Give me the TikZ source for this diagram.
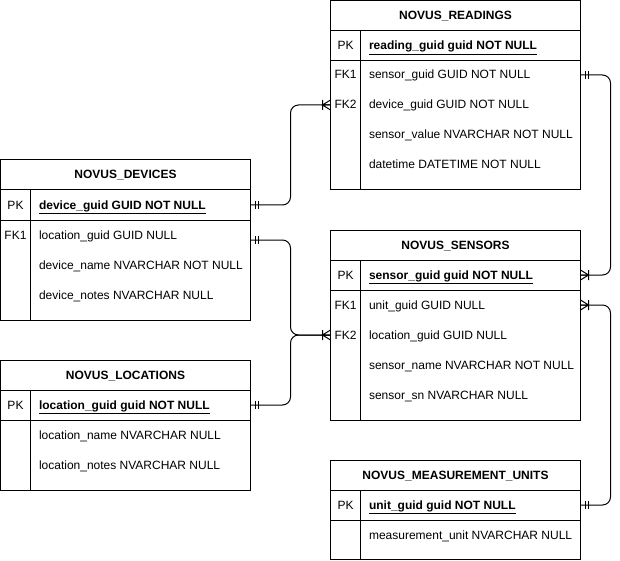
\documentclass[tikz,border=0pt]{standalone}
\usepackage{fontspec}
\setmainfont{Liberation Sans}
\tikzset{
  tabframe/.style = {draw, anchor=north west, inner sep=0pt, outer sep=0pt},
  title/.style = {font=\fontsize{12}{14}\selectfont\bfseries, inner sep=0pt, text height=9pt, text depth=1pt},
  keycol/.style = {inner sep=0pt, text height=9pt, text depth=1pt},
  field/.style = {anchor=west, inner sep=0pt, text height=9pt, text depth=1pt},
  erone/.pic = {\draw (5,-4) -- (5,4) (8,-4) -- (8,4);},
  ermany/.pic = {\draw (0,-5) -- (8,0) -- (0,5) (0,0) -- (8,0) (8,-5) -- (8,5);},
  link/.style = {rounded corners=8pt}
}
\newcommand{\pkey}[1]{\textbf{\underline{#1}}}
\begin{document}
\begin{tikzpicture}[x=1pt, y=-1pt, line width=1pt, font=\fontsize{12}{14}\selectfont]
\useasboundingbox (-0.5,0) rectangle (619.5,561);
% NOVUS_READINGS
\node[tabframe, minimum width=250pt, minimum height=189pt] (readings) at (330,1) {};
\draw (330,31) -- (580,31) (330,61) -- (580,61) (360,31) -- (360,190);
\node[title] (rdtitle) at (455,16) {NOVUS\_READINGS};
\node[keycol] (rdpkk) at (345,46) {PK};
\node[field] (rdpk) at (368,46) {\pkey{reading\_guid guid NOT NULL}};
\node[keycol] (rdfkak) at (345,75) {FK1};
\node[field] (rdfka) at (368,75) {sensor\_guid GUID NOT NULL};
\node[keycol] (rdfkbk) at (345,105) {FK2};
\node[field] (rdfkb) at (368,105) {device\_guid GUID NOT NULL};
\node[field] (rdval) at (368,135) {sensor\_value NVARCHAR NOT NULL};
\node[field] (rdtime) at (368,165) {datetime DATETIME NOT NULL};
% NOVUS_DEVICES
\node[tabframe, minimum width=250pt, minimum height=160pt] (devices) at (0,160) {};
\draw (0,190) -- (250,190) (0,220) -- (250,220) (30,190) -- (30,320);
\node[title] (dvtitle) at (125,175) {NOVUS\_DEVICES};
\node[keycol] (dvpkk) at (15,205) {PK};
\node[field] (dvpk) at (38,205) {\pkey{device\_guid GUID NOT NULL}};
\node[keycol] (dvfkk) at (15,235) {FK1};
\node[field] (dvfk) at (38,235) {location\_guid GUID NULL};
\node[field] (dvname) at (38,265) {device\_name NVARCHAR NOT NULL};
\node[field] (dvnotes) at (38,295) {device\_notes NVARCHAR NULL};
% NOVUS_SENSORS
\node[tabframe, minimum width=250pt, minimum height=190pt] (sensors) at (330,230) {};
\draw (330,260) -- (580,260) (330,290) -- (580,290) (360,260) -- (360,420);
\node[title] (sntitle) at (455,245) {NOVUS\_SENSORS};
\node[keycol] (snpkk) at (345,275) {PK};
\node[field] (snpk) at (368,275) {\pkey{sensor\_guid guid NOT NULL}};
\node[keycol] (snfkak) at (345,305) {FK1};
\node[field] (snfka) at (368,305) {unit\_guid GUID NULL};
\node[keycol] (snfkbk) at (345,335) {FK2};
\node[field] (snfkb) at (368,335) {location\_guid GUID NULL};
\node[field] (snname) at (368,365) {sensor\_name NVARCHAR NOT NULL};
\node[field] (snsn) at (368,395) {sensor\_sn NVARCHAR NULL};
% NOVUS_LOCATIONS
\node[tabframe, minimum width=250pt, minimum height=130pt] (locations) at (0,360) {};
\draw (0,390) -- (250,390) (0,420) -- (250,420) (30,390) -- (30,490);
\node[title] (lctitle) at (125,375) {NOVUS\_LOCATIONS};
\node[keycol] (lcpkk) at (15,405) {PK};
\node[field] (lcpk) at (38,405) {\pkey{location\_guid guid NOT NULL}};
\node[field] (lcname) at (38,435) {location\_name NVARCHAR NULL};
\node[field] (lcnotes) at (38,465) {location\_notes NVARCHAR NULL};
% NOVUS_MEASUREMENT_UNITS
\node[tabframe, minimum width=250pt, minimum height=99pt] (units) at (330,460) {};
\draw (330,490) -- (580,490) (330,520) -- (580,520) (360,490) -- (360,559);
\node[title] (untitle) at (455,475) {NOVUS\_MEASUREMENT\_UNITS};
\node[keycol] (unpkk) at (345,505) {PK};
\node[field] (unpk) at (368,505) {\pkey{unit\_guid guid NOT NULL}};
\node[field] (ununit) at (368,535) {measurement\_unit NVARCHAR NULL};
% relations
\coordinate (dvpkout) at (dvpk -| devices.east);
\coordinate (dvfkout) at ([yshift=-5pt]dvfk -| devices.east);
\coordinate (lcpkout) at (lcpk -| locations.east);
\coordinate (rdfkaout) at (rdfka -| readings.east);
\coordinate (rdfkbin) at (rdfkb -| readings.west);
\coordinate (snpkin) at (snpk -| sensors.east);
\coordinate (snfkaout) at (snfka -| sensors.east);
\coordinate (snfkbin) at (snfkb -| sensors.west);
\coordinate (unpkin) at (unpk -| units.east);
\draw[link] (dvpkout) -- ++(40,0) |- (rdfkbin);
\draw[link] (dvfkout) -- ++(40,0) |- (snfkbin);
\draw[link] (lcpkout) -- ++(40,0) |- (snfkbin);
\draw[link] (rdfkaout) -- ++(30,0) |- (snpkin);
\draw[link] (snfkaout) -- ++(30,0) |- (unpkin);
\pic at (dvpkout) {erone};
\pic at (dvfkout) {erone};
\pic at (lcpkout) {erone};
\pic at (rdfkaout) {erone};
\pic at (unpkin) {erone};
\pic at (snpkin) {ermany};
\pic at (snfkaout) {ermany};
\pic[rotate=180] at (rdfkbin) {ermany};
\pic[rotate=180] at (snfkbin) {ermany};
\end{tikzpicture}
\end{document}
